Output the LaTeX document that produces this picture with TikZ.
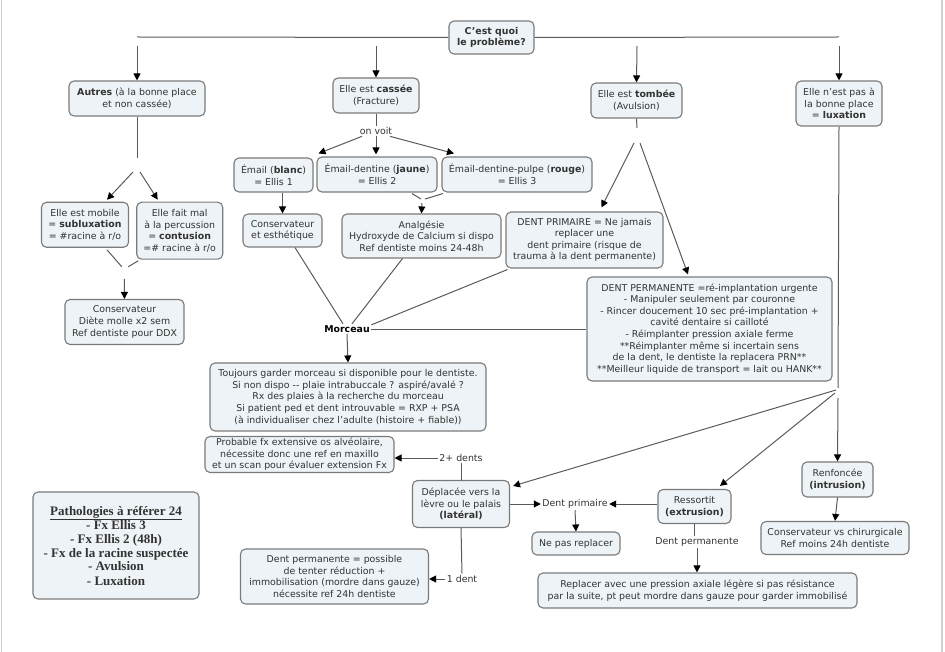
\documentclass[tikz,border=0pt]{standalone}
\usepackage{fontspec}
\setmainfont{DejaVu Sans}
\newfontfamily\serifbold{Liberation Serif}
\usetikzlibrary{arrows.meta,calc}
\definecolor{boxfill}{HTML}{EDF3F6}
\definecolor{boxdraw}{HTML}{7A7A7A}
\definecolor{txt}{HTML}{333333}
\definecolor{lin}{HTML}{5A5A5A}
\definecolor{framecol}{HTML}{CFCFCF}
\begin{document}
\begin{tikzpicture}[x=1pt,y=-1pt,
  box/.style={draw=boxdraw, fill=boxfill, rounded corners=5pt, line width=1.1pt, align=center, text=txt, font=\fontsize{9.4}{11.6}\selectfont, inner sep=1pt},
  lab/.style={text=txt, font=\fontsize{9.4}{11.6}\selectfont, inner sep=1.5pt},
  ln/.style={draw=lin, line width=1pt},
  arr/.style={ln, -{Triangle[length=7pt,width=7pt,color=black]}}
]
\useasboundingbox (0,0) rectangle (945,652);
\draw[framecol, line width=1.6pt] (1.5,0) -- (1.5,652) (942,0) -- (942,652);

% nodes
\node[box, minimum width=85pt, minimum height=33pt] (root) at (491.5,37.5) {\bfseries C'est quoi\\\bfseries le problème?};
\node[box, minimum width=136pt, minimum height=35pt] (autres) at (137,98.5) {\textbf{Autres} (à la bonne place\\et non cassée)};
\node[box, minimum width=86pt, minimum height=35pt] (cassee) at (376,95.5) {Elle est \textbf{cassée}\\(Fracture)};
\node[box, minimum width=91pt, minimum height=35pt] (tombee) at (636.5,100.5) {Elle est \textbf{tombée}\\(Avulsion)};
\node[box, minimum width=86pt, minimum height=45pt] (lux) at (839,103.5) {Elle n'est pas à\\la bonne place\\= \textbf{luxation}};

\node[lab] (onvoit) at (376,131) {on voit};
\node[box, minimum width=79pt, minimum height=34pt] (blanc) at (273.5,175) {Émail (\textbf{blanc})\\= Ellis 1};
\node[box, minimum width=120pt, minimum height=35pt] (emaild) at (377,174.5) {Émail-dentine (\textbf{jaune})\\= Ellis 2};
\node[box, minimum width=150pt, minimum height=35pt] (pulpe) at (517,174.5) {Émail-dentine-pulpe (\textbf{rouge})\\= Ellis 3};
\node[box, minimum width=79pt, minimum height=33pt] (cons) at (282.5,230.5) {Conservateur\\et esthétique};
\node[box, minimum width=159pt, minimum height=44pt] (analg) at (421.5,236) {Analgésie\\Hydroxyde de Calcium si dispo\\Ref dentiste moins 24-48h};
\node[box, minimum width=157pt, minimum height=56pt] (prim) at (584.5,240) {DENT PRIMAIRE = Ne jamais\\replacer une\\dent primaire (risque de\\trauma à la dent permanente)};
\node[box, minimum width=245pt, minimum height=104pt] (perm) at (709.5,329) {DENT PERMANENTE =ré-implantation urgente\\- Manipuler seulement par couronne\\- Rincer doucement 10 sec pré-implantation +\\cavité dentaire si cailloté\\- Réimplanter pression axiale ferme\\**Réimplanter même si incertain sens\\de la dent, le dentiste la replacera PRN**\\**Meilleur liquide de transport = lait ou HANK**};

\node[box, minimum width=87pt, minimum height=45pt] (mobile) at (85,224.8) {Elle est mobile\\= \textbf{subluxation}\\= \#racine à r/o};
\node[box, minimum width=86pt, minimum height=57pt] (faitmal) at (179.7,230.7) {Elle fait mal\\à la percussion\\= \textbf{contusion}\\=\# racine à r/o};
\node[box, minimum width=119pt, minimum height=45pt] (diete) at (124.5,322) {Conservateur\\Diète molle x2 sem\\Ref dentiste pour DDX};

\node[lab, font=\bfseries\fontsize{9.4}{11.6}\selectfont, text=black] (morceau) at (347,329) {Morceau};
\node[box, minimum width=276pt, minimum height=68pt] (toujours) at (348,397) {Toujours garder morceau si disponible pour le dentiste.\\Si non dispo -{}- plaie intrabuccale ? aspiré/avalé ?\\Rx des plaies à la recherche du morceau\\Si patient ped et dent introuvable = RXP + PSA\\(à individualiser chez l'adulte (histoire + fiable))};
\node[box, minimum width=189pt, minimum height=36pt] (probable) at (299.5,454.5) {Probable fx extensive os alvéolaire,\\nécessite donc une ref en maxillo\\et un scan pour évaluer extension Fx};

\node[box, minimum width=166pt, minimum height=107pt, font=\serifbold\bfseries\fontsize{13}{14}\selectfont] (patho) at (116,545.5) {\underline{Pathologies à référer 24}\\- Fx Ellis 3\\- Fx Ellis 2 (48h)\\- Fx de la racine suspectée\\- Avulsion\\- Luxation};
\node[box, minimum width=188pt, minimum height=55pt] (dpermbox) at (334.5,576.5) {Dent permanente = possible\\de tenter réduction +\\immobilisation (mordre dans gauze)\\nécessite ref 24h dentiste};

\node[lab] (twop) at (461,458) {2+ dents};
\node[box, minimum width=97pt, minimum height=47pt] (depl) at (461,504) {Déplacée vers la\\lèvre ou le palais\\\textbf{(latéral)}};
\node[lab] (onedent) at (462,579) {1 dent};
\node[lab] (dprim) at (575,504) {Dent primaire};
\node[box, minimum width=88pt, minimum height=23pt] (nepas) at (576,543.5) {Ne pas replacer};
\node[box, minimum width=73pt, minimum height=34pt] (ress) at (694.5,506.5) {Ressortit\\\textbf{(extrusion)}};
\node[lab] (dpermlab) at (697,542) {Dent permanente};
\node[box, minimum width=319pt, minimum height=35pt] (replacer) at (697.5,590.5) {Replacer avec une pression axiale légère si pas résistance\\par la suite, pt peut mordre dans gauze pour garder immobilisé};
\node[box, minimum width=71pt, minimum height=35pt] (renf) at (837.5,479.5) {Renfoncée\\\textbf{(intrusion)}};
\node[box, minimum width=148pt, minimum height=33pt] (consvs) at (835,538) {Conservateur vs chirurgicale\\Ref moins 24h dentiste};

% free ends
\coordinate (hl) at (137,37);
\coordinate (hr) at (839,37);
\coordinate (a1) at (137,46);
\coordinate (a2) at (376,46);
\coordinate (a3) at (637,46);
\coordinate (a4) at (839,46);
\coordinate (tb) at (637,128);
\coordinate (tb1) at (634,143);
\coordinate (tb2) at (640,143);
\coordinate (ab) at (137,158);
\coordinate (ab1) at (133,172);
\coordinate (ab2) at (140,172);
\coordinate (mj1) at (121.7,266.7);
\coordinate (mj2) at (128.3,266.7);
\coordinate (mj) at (124.3,279);
\coordinate (ej1) at (421,199);
\coordinate (ej2) at (425,199);
\coordinate (ej) at (422,203);
\coordinate (lb) at (838,388);
\coordinate (lb1) at (836,390);
\coordinate (lb2) at (835,393);
\coordinate (lb3) at (838,398);

% connectors
\draw[ln] (root.west) -- (hl);
\draw[ln] (root.east) -- (hr);
\draw[arr] (a1) -- (autres.north);
\draw[arr] (a2) -- (cassee.north);
\draw[arr] (a3) -- (tombee.north);
\draw[arr] (a4) -- (lux.north);

\draw[ln] (cassee.south) -- (onvoit.north);
\draw[arr] ($(onvoit.south)+(-14,0)$) -- ($(blanc.north)+(45,-4)$);
\draw[arr] (onvoit.south) -- ($(onvoit.south |- emaild.north)+(0,-2)$);
\draw[arr] ($(onvoit.south)+(14,0)$) -- ($(pulpe.north)+(-63,-3)$);

\draw[arr] (cons.north |- blanc.south) -- (cons.north);
\draw[ln] ($(emaild.south)+(35,1)$) -- (ej1);
\draw[ln] ($(pulpe.south)+(-74,1)$) -- (ej2);
\draw[arr] (ej) -- (analg.north);

\draw[ln] (autres.south) -- (ab);
\draw[arr] (ab1) -- ($(mobile.north)+(22,-2)$);
\draw[arr] (ab2) -- ($(faitmal.north)+(-22,-2)$);
\draw[ln] ($(mobile.south)+(22,2)$) -- (mj1);
\draw[ln] ($(faitmal.south)+(-41.4,1)$) -- (mj2);
\draw[arr] (mj) -- (diete.north);

\draw[ln] (tombee.south) -- (tb);
\draw[arr] (tb1) -- ($(prim.north)+(17,-4)$);
\draw[arr] (tb2) -- ($(perm.north)+(-21.5,-2)$);

\draw[ln] ($(cons.south)+(12.5,0)$) -- ($(morceau.north)+(-4,0)$);
\draw[ln] ($(analg.south)+(-19,0)$) -- ($(morceau.north)+(5,0)$);
\draw[ln] ($(prim.south west)+(2,1)$) -- ($(morceau.north east)+(0,1)$);
\draw[ln] (perm.west) -- (morceau.east);
\draw[arr] (morceau.south) -- (toujours.north);

\draw[ln] (lux.south) -- (lb);
\draw[arr] (lb1) -- ($(depl.north east)+(3,6)$);
\draw[arr] (lb2) -- ($(ress.north)+(25.5,-3)$);
\draw[arr] (lb3) -- (renf.north);
\draw[arr] (renf.south) -- (consvs.north);

\draw[ln] (depl.north) -- (twop.south);
\draw[arr] (twop.west) -- (twop.west -| probable.east);
\draw[ln] (depl.south) -- (onedent.north);
\draw[arr] (onedent.west) -- (onedent.west -| dpermbox.east);

\draw[arr] (depl.east) -- (dprim.west);
\draw[arr] (ress.west |- dprim.east) -- (dprim.east);
\draw[arr] (dprim.south) -- (nepas.north);
\draw[ln] (ress.south) -- (ress.south |- dpermlab.north);
\draw[arr] (dpermlab.south) -- (dpermlab.south |- replacer.north);
\end{tikzpicture}
\end{document}
